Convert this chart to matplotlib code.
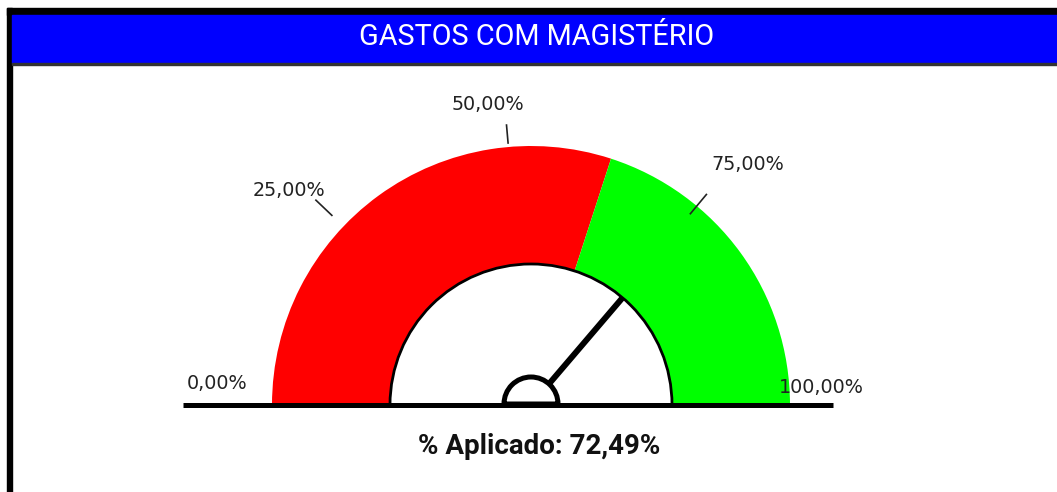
import numpy as np
import matplotlib.pyplot as plt
from matplotlib.patches import Wedge, Rectangle, Arc

# Dados do velocímetro
titulo = 'GASTOS COM MAGISTÉRIO'
faixas_inicio = [0, 60]
faixas_fim = [60, 100]
faixas_cores = ['#ff0000', '#00ff00']
marcas = [0, 25, 50, 75, 100]
rotulos = ['0,00%', '25,00%', '50,00%', '75,00%', '100,00%']
aplicado = 72.49

# Geometria (pixels, y para cima)
W, H = 1057, 492
cx, cy = 531, 87
r_ext, r_int = 259, 141
fonte_estreita = ['Liberation Sans Narrow', 'Roboto', 'DejaVu Sans']


def angulo(v):
    return 180 - v * 1.8


def ponto(v, r, desvio=0.0):
    a = np.radians(angulo(v) + desvio)
    return cx + r * np.cos(a), cy + r * np.sin(a)


fig = plt.figure(figsize=(W / 100, H / 100), dpi=100)
ax = fig.add_axes([0, 0, 1, 1])
ax.set_xlim(0, W)
ax.set_ylim(0, H)
ax.axis('off')

# Moldura e cabeçalho
ax.add_patch(Rectangle((7, 0), 5, 484, color='black', zorder=1))
ax.add_patch(Rectangle((7, 477), W - 7, 7, color='black', zorder=1))
ax.add_patch(Rectangle((12, 429), W - 12, 48, color='#0000ff', zorder=1))
ax.add_patch(Rectangle((12, 427), W - 12, 2, color='#333333', zorder=1))
ax.text(537, 455, titulo, color='white', fontsize=20.8, ha='center', va='center',
        family=fonte_estreita)

# Faixas do velocímetro
for ini, fim, cor in zip(faixas_inicio, faixas_fim, faixas_cores):
    ax.add_patch(Wedge((cx, cy), r_ext, angulo(fim), angulo(ini),
                       width=r_ext - r_int, facecolor=cor, edgecolor='none', zorder=2))
ax.add_patch(Arc((cx, cy), 2 * r_int, 2 * r_int, theta1=0, theta2=180,
                 color='black', lw=2.0, zorder=3))

# Rótulos e traços
ajuste_rotulo = [(1, 38), (-8, 4), (-27, -14), (6, 6), (-24, 1)]
ajuste_traco = {25: (1.4, 275, 297), 50: (5.0, 263, 281), 75: (5.2, 249, 274)}
for v, txt, (dx, dy) in zip(marcas, rotulos, ajuste_rotulo):
    x, y = ponto(v, 315, 3)
    ax.text(x + dx, y + dy, txt, fontsize=13.8, color='#222222',
            ha='center', va='center', zorder=5)
    if v in ajuste_traco:
        d, r0, r1 = ajuste_traco[v]
        x0, y0 = ponto(v, r0, d)
        x1, y1 = ponto(v, r1, d)
        ax.plot([x0, x1], [y0, y1], color='#222222', lw=1.2, zorder=4)

# Linha de base
ax.plot([183, 833], [cy, cy], color='black', lw=3.6, solid_capstyle='butt', zorder=3)

# Ponteiro
xp, yp = ponto(aplicado, r_int)
ax.plot([cx, xp], [cy, yp], color='black', lw=4.3, solid_capstyle='butt', zorder=6)
ax.add_patch(Wedge((cx, cy + 1), 27, 0, 180, facecolor='white', edgecolor='black',
                   lw=3.6, zorder=7))

ax.text(539, 46, f'% Aplicado: {aplicado:.2f}%'.replace('.', ','), fontsize=20,
        fontweight='bold', color='#111111', ha='center', va='center',
        family=fonte_estreita)

fig.savefig('out.png', dpi=100)
